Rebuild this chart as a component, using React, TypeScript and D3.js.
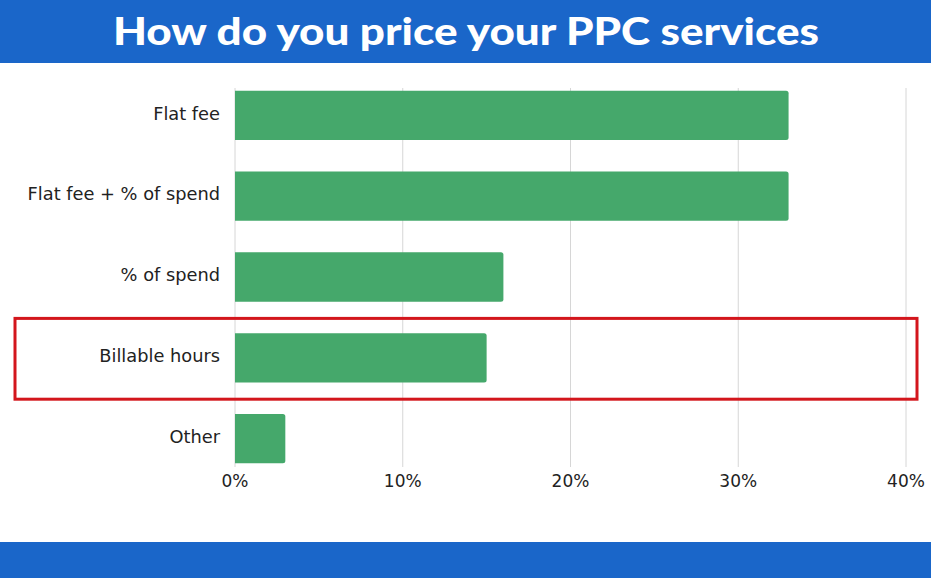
import React from "react";
import * as d3 from "d3";

const categories = ["Flat fee", "Flat fee + % of spend", "% of spend", "Billable hours", "Other"];
const values = [33, 33, 16, 15, 3];
const ticks = [0, 10, 20, 30, 40];
const title = "How do you price your PPC services";
const highlighted = "Billable hours";

const W = 931;
const H = 578;
const labelFont = "'DejaVu Sans', sans-serif";

export default function App() {
  const x = d3.scaleLinear().domain([0, 40]).range([235, 906]);
  const y = d3.scaleBand<string>().domain(categories).range([75, 479]).paddingInner(0.39).paddingOuter(0.195);
  const hb = y(highlighted)!;
  const step = y.step();
  return (
    <svg width={W} height={H} style={{ position: "absolute", left: 0, top: 0, background: "#fff" }}>
      <rect x={0} y={0} width={W} height={63} fill="#1a66c9" />
      <text x={466} y={45} textAnchor="middle" fill="#fff" fontFamily="Lato, 'Open Sans', sans-serif" fontWeight={900} fontSize={37} textLength={706} lengthAdjust="spacingAndGlyphs">
        {title}
      </text>
      {ticks.map((t) => (
        <g key={t}>
          <line x1={x(t)} x2={x(t)} y1={88} y2={467} stroke="#d6d6d6" strokeWidth={1} />
          <text x={x(t)} y={487} textAnchor="middle" fontFamily={labelFont} fontSize={17} fill="#222">
            {t}%
          </text>
        </g>
      ))}
      {categories.map((c, i) => {
        const yy = y(c)!;
        const w = x(values[i]) - x(0);
        const bh = y.bandwidth();
        const r = 2.5;
        const path = `M${x(0)},${yy} H${x(0) + w - r} Q${x(0) + w},${yy} ${x(0) + w},${yy + r} V${yy + bh - r} Q${x(0) + w},${yy + bh} ${x(0) + w - r},${yy + bh} H${x(0)} Z`;
        return (
          <g key={c}>
            <path d={path} fill="#45a86b" />
            <text x={220} y={yy + bh / 2 - 2} dy="0.35em" textAnchor="end" fontFamily={labelFont} fontSize={17.8} fill="#222">
              {c}
            </text>
          </g>
        );
      })}
      <rect x={15} y={hb - (step - y.bandwidth()) / 2 + 1} width={902} height={step} fill="none" stroke="#d3161c" strokeWidth={3} />
      <rect x={0} y={542} width={W} height={36} fill="#1a66c9" />
    </svg>
  );
}
